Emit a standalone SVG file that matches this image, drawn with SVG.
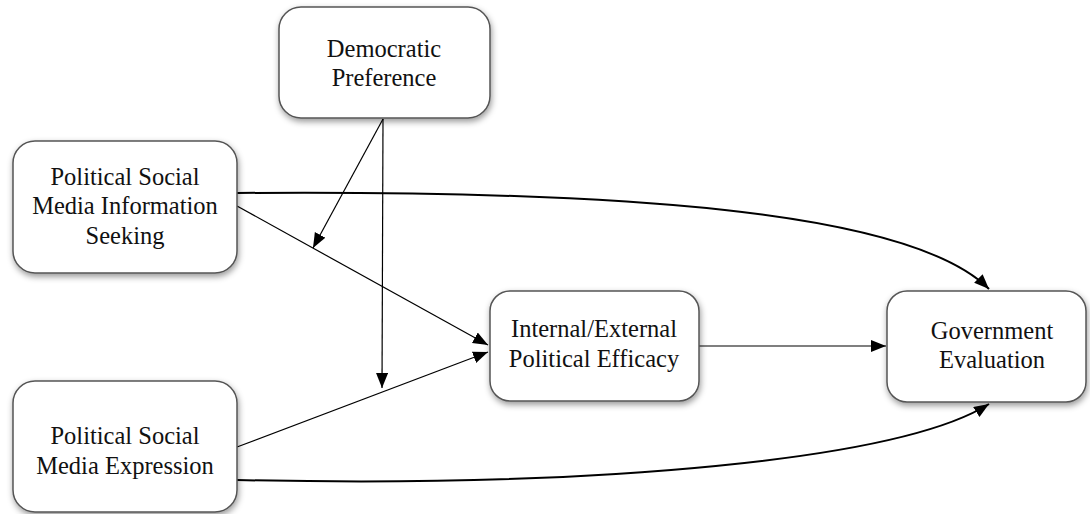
<svg xmlns="http://www.w3.org/2000/svg" width="1090" height="514" viewBox="0 0 1090 514">
<style>
.box{fill:#fff;stroke:#555;stroke-width:1.5;filter:url(#sh)}
.t{font-family:"Liberation Serif","Times New Roman",serif;font-size:24.5px;fill:#111;text-anchor:middle}
.c{fill:none;stroke:#000}
.thin{stroke-width:1.2}
.thick{stroke-width:2}
</style>
<defs>
<filter id="sh" x="-10%" y="-10%" width="125%" height="130%">
<feDropShadow dx="1" dy="3" stdDeviation="3" flood-color="#000" flood-opacity="0.4"/>
</filter>
<marker id="ah" markerUnits="userSpaceOnUse" markerWidth="18" markerHeight="14" refX="15" refY="6" orient="auto" viewBox="0 0 18 14">
<path d="M0,0 L15,6 L0,12 z" fill="#000"/>
</marker>
</defs>
<rect width="1090" height="514" fill="#fff"/>
<g id="connectors">
<path class="c thick" d="M237,193 C620,190 910,210 989,289" marker-end="url(#ah)"/>
<path class="c thick" d="M237,480 C600,488 900,460 989,404" marker-end="url(#ah)"/>
<path class="c thin" d="M237,206 L488,345" marker-end="url(#ah)"/>
<path class="c thin" d="M237,447 L488,352" marker-end="url(#ah)"/>
<path class="c thin" d="M383,119 L313,248" marker-end="url(#ah)"/>
<path class="c thin" d="M383,119 L382,388" marker-end="url(#ah)"/>
<path class="c thin" d="M699,346 L886,346" marker-end="url(#ah)"/>
</g>
<g id="democratic">
<rect class="box" x="279" y="7" width="211" height="111" rx="22"/>
<text class="t" x="384" y="57">Democratic</text>
<text class="t" x="384" y="86">Preference</text>
</g>
<g id="seeking">
<rect class="box" x="13" y="141" width="224" height="132" rx="22"/>
<text class="t" x="125" y="185">Political Social</text>
<text class="t" x="125" y="214">Media Information</text>
<text class="t" x="125" y="244">Seeking</text>
</g>
<g id="expression">
<rect class="box" x="13" y="381" width="224" height="131" rx="22"/>
<text class="t" x="125" y="444">Political Social</text>
<text class="t" x="125" y="474">Media Expression</text>
</g>
<g id="efficacy">
<rect class="box" x="490" y="291" width="209" height="110" rx="20"/>
<text class="t" x="594" y="337">Internal/External</text>
<text class="t" x="594" y="367">Political Efficacy</text>
</g>
<g id="evaluation">
<rect class="box" x="887" y="291" width="199" height="111" rx="20"/>
<text class="t" x="992" y="339">Government</text>
<text class="t" x="992" y="368">Evaluation</text>
</g>
</svg>
